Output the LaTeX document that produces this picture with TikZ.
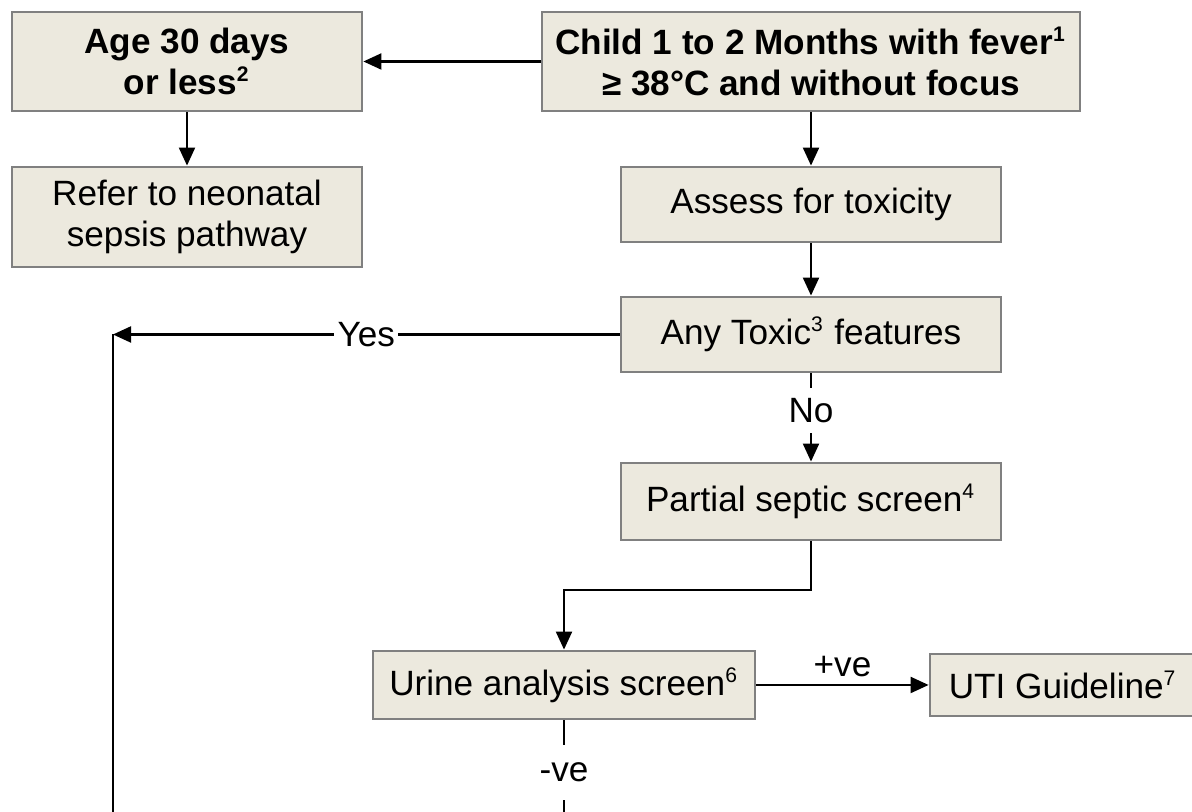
\documentclass[tikz,border=0pt]{standalone}
\usepackage{fontspec}
\setmainfont{Liberation Sans}
\usetikzlibrary{arrows.meta}
\definecolor{boxfill}{RGB}{236,233,222}
\newcommand{\fnote}[1]{\textsuperscript{\fontsize{6}{6}\selectfont #1}}
\tikzset{%
    box/.style={rectangle, draw=black!50, line width=0.8pt, fill=boxfill, align=center, inner sep=0pt, font=\fontsize{10}{11.5}\selectfont},
    con/.style={line width=0.6pt},
    cona/.style={line width=0.6pt, -{Triangle[length=1.8mm, width=1.6mm]}},
    lbl/.style={fill=white, inner sep=3pt, font=\fontsize{10}{12}\selectfont},
}

\begin{document}
\begin{tikzpicture}
    \useasboundingbox (0,0) rectangle (11.92,8.12);
    \begin{scope}
    \clip (0,0) rectangle (11.92,8.12);
    \node [box, minimum width=3.50cm, minimum height=0.99cm] (age) at (1.87,7.505) {\bfseries Age 30 days\\\bfseries or less\fnote{2}};
    \node [box, minimum width=5.38cm, minimum height=0.99cm] (child) at (8.11,7.505) {\bfseries Child 1 to 2 Months with fever\fnote{1}\\\bfseries ≥ 38°C and without focus};
    \node [box, minimum width=3.50cm, minimum height=1.00cm, font=\fontsize{10}{11.8}\selectfont] (refer) at (1.87,5.95) {Refer to neonatal\\sepsis pathway};
    \node [box, minimum width=3.80cm, minimum height=0.75cm] (assess) at (8.11,6.075) {Assess for toxicity};
    \node [box, minimum width=3.80cm, minimum height=0.75cm] (toxic) at (8.11,4.775) {Any Toxic\fnote{3} features};
    \node [box, minimum width=3.80cm, minimum height=0.77cm] (partial) at (8.11,3.105) {Partial septic screen\fnote{4}};
    \node [box, minimum width=3.82cm, minimum height=0.68cm] (urine) at (5.64,1.27) {Urine analysis screen\fnote{6}};
    \node [box, minimum width=2.66cm, minimum height=0.62cm] (uti) at (10.63,1.27) {UTI Guideline\fnote{7}};
    \coordinate (yes) at (1.13,4.775);
    \coordinate (yesend) at (1.13,0);
    \coordinate (bend) at (8.11,2.22);
    \coordinate (veend) at (5.64,0);
    \draw [cona] (child.west) -- (age.east);
    \draw [cona] (age.south) -- (refer.north);
    \draw [cona] (child.south) -- (assess.north);
    \draw [cona] (assess.south) -- (toxic.north);
    \draw [cona] (toxic.west) -- (yes) node [lbl, pos=0.5, inner sep=1pt] {Yes};
    \draw [con] (yes) -- (yesend);
    \draw [cona] (toxic.south) -- (partial.north) node [lbl, pos=0.42] {No};
    \draw [cona] (partial.south) -- (bend) -| (urine.north);
    \draw [cona] (urine.east) -- (uti.west) node [midway, above, inner sep=2pt, font=\fontsize{10}{12}\selectfont] {+ve};
    \draw [con] (urine.south) -- (veend) node [lbl, pos=0.57, inner sep=5pt] {-ve};
    \end{scope}
\end{tikzpicture}
\end{document}
